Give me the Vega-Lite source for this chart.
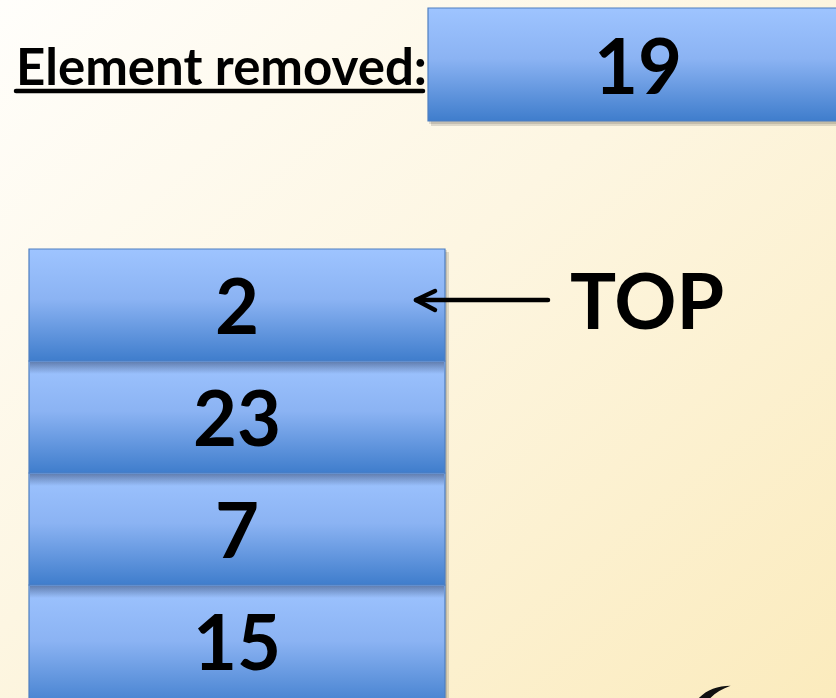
{
  "$schema": "https://vega.github.io/schema/vega-lite/v6.json",
  "width": 836,
  "height": 698,
  "autosize": {"type": "none"},
  "padding": 0,
  "background": "#fdf8e6",
  "config": {"view": {"stroke": null}},
  "layer": [
    {
      "data": {"values": [{"x": 0, "x2": 836, "y": 0, "y2": 698}]},
      "mark": {"type": "rect", "fill": {"gradient": "linear", "x1": 0, "y1": 0, "x2": 1, "y2": 1, "stops": [{"offset": 0, "color": "#fffefb"}, {"offset": 0.45, "color": "#fdf6e2"}, {"offset": 1, "color": "#fbebbd"}]}},
      "encoding": {
        "x": {"field": "x", "type": "quantitative", "scale": {"domain": [0, 836], "nice": false, "zero": false}, "axis": null},
        "x2": {"field": "x2"},
        "y": {"field": "y", "type": "quantitative", "scale": {"domain": [0, 698], "nice": false, "zero": false, "reverse": true}, "axis": null},
        "y2": {"field": "y2"}
      }
    },
    {
      "data": {"values": [
        {"x": 431, "x2": 850, "y": 12, "y2": 126},
        {"x": 32, "x2": 449, "y": 252, "y2": 700}
      ]},
      "mark": {"type": "rect", "fill": "#000000", "opacity": 0.12, "clip": true},
      "encoding": {
        "x": {"field": "x", "type": "quantitative", "scale": {"domain": [0, 836], "nice": false, "zero": false}, "axis": null},
        "x2": {"field": "x2"},
        "y": {"field": "y", "type": "quantitative", "scale": {"domain": [0, 698], "nice": false, "zero": false, "reverse": true}, "axis": null},
        "y2": {"field": "y2"}
      }
    },
    {
      "data": {"values": [
        {"x": 429, "x2": 848, "y": 10, "y2": 124},
        {"x": 30, "x2": 447, "y": 250, "y2": 700}
      ]},
      "mark": {"type": "rect", "fill": "#000000", "opacity": 0.12, "clip": true},
      "encoding": {
        "x": {"field": "x", "type": "quantitative", "scale": {"domain": [0, 836], "nice": false, "zero": false}, "axis": null},
        "x2": {"field": "x2"},
        "y": {"field": "y", "type": "quantitative", "scale": {"domain": [0, 698], "nice": false, "zero": false, "reverse": true}, "axis": null},
        "y2": {"field": "y2"}
      }
    },
    {
      "data": {"values": [
        {"item": "removed", "x": 428, "x2": 848, "y": 8, "y2": 121},
        {"item": "15", "x": 29, "x2": 445, "y": 585, "y2": 710},
        {"item": "7", "x": 29, "x2": 445, "y": 473, "y2": 585},
        {"item": "23", "x": 29, "x2": 445, "y": 361, "y2": 473},
        {"item": "2", "x": 29, "x2": 445, "y": 249, "y2": 361}
      ]},
      "mark": {"type": "rect", "clip": true, "stroke": "#4f7fc0", "strokeWidth": 1.2, "fill": {"gradient": "linear", "x1": 0, "y1": 0, "x2": 0, "y2": 1, "stops": [{"offset": 0, "color": "#9ec4ff"}, {"offset": 0.45, "color": "#8bb3f3"}, {"offset": 1, "color": "#3f7dcc"}]}},
      "encoding": {
        "x": {"field": "x", "type": "quantitative", "scale": {"domain": [0, 836], "nice": false, "zero": false}, "axis": null},
        "x2": {"field": "x2"},
        "y": {"field": "y", "type": "quantitative", "scale": {"domain": [0, 698], "nice": false, "zero": false, "reverse": true}, "axis": null},
        "y2": {"field": "y2"}
      }
    },
    {
      "data": {"values": [
        {"x": 30, "x2": 444, "y": 362, "y2": 374},
        {"x": 30, "x2": 444, "y": 474, "y2": 486},
        {"x": 30, "x2": 444, "y": 586, "y2": 598}
      ]},
      "mark": {"type": "rect", "fill": {"gradient": "linear", "x1": 0, "y1": 0, "x2": 0, "y2": 1, "stops": [{"offset": 0, "color": "rgba(40,60,100,0.5)"}, {"offset": 1, "color": "rgba(40,60,100,0)"}]}},
      "encoding": {
        "x": {"field": "x", "type": "quantitative", "scale": {"domain": [0, 836], "nice": false, "zero": false}, "axis": null},
        "x2": {"field": "x2"},
        "y": {"field": "y", "type": "quantitative", "scale": {"domain": [0, 698], "nice": false, "zero": false, "reverse": true}, "axis": null},
        "y2": {"field": "y2"}
      }
    },
    {
      "data": {"values": [
        {"label": "19", "x": 638, "y": 94},
        {"label": "2", "x": 237, "y": 334},
        {"label": "23", "x": 237, "y": 446},
        {"label": "7", "x": 237, "y": 558},
        {"label": "15", "x": 237, "y": 670}
      ]},
      "mark": {"type": "text", "font": "Lato", "fontWeight": "bold", "fontSize": 76, "align": "center", "baseline": "alphabetic", "color": "#000000"},
      "encoding": {
        "x": {"field": "x", "type": "quantitative", "scale": {"domain": [0, 836], "nice": false, "zero": false}, "axis": null},
        "y": {"field": "y", "type": "quantitative", "scale": {"domain": [0, 698], "nice": false, "zero": false, "reverse": true}, "axis": null},
        "text": {"field": "label"}
      }
    },
    {
      "data": {"values": [{"label": "TOP", "x": 570, "y": 329}]},
      "mark": {"type": "text", "font": "Lato", "fontWeight": "bold", "fontSize": 77, "align": "left", "baseline": "alphabetic", "color": "#000000"},
      "encoding": {
        "x": {"field": "x", "type": "quantitative", "scale": {"domain": [0, 836], "nice": false, "zero": false}, "axis": null},
        "y": {"field": "y", "type": "quantitative", "scale": {"domain": [0, 698], "nice": false, "zero": false, "reverse": true}, "axis": null},
        "text": {"field": "label"}
      }
    },
    {
      "data": {"values": [{"label": "Element removed:", "x": 16, "y": 85}]},
      "mark": {"type": "text", "font": "Lato", "fontWeight": "bold", "fontSize": 51, "align": "left", "baseline": "alphabetic", "color": "#000000"},
      "encoding": {
        "x": {"field": "x", "type": "quantitative", "scale": {"domain": [0, 836], "nice": false, "zero": false}, "axis": null},
        "y": {"field": "y", "type": "quantitative", "scale": {"domain": [0, 698], "nice": false, "zero": false, "reverse": true}, "axis": null},
        "text": {"field": "label"}
      }
    },
    {
      "data": {"values": [
        {"part": "underline", "x": 16, "x2": 423, "y": 91, "y2": 91},
        {"part": "shaft", "x": 417, "x2": 548, "y": 300, "y2": 300},
        {"part": "head-up", "x": 416, "x2": 435, "y": 300, "y2": 291},
        {"part": "head-down", "x": 416, "x2": 435, "y": 300, "y2": 310}
      ]},
      "mark": {"type": "rule", "color": "#000000", "strokeWidth": 4.5, "strokeCap": "round"},
      "encoding": {
        "x": {"field": "x", "type": "quantitative", "scale": {"domain": [0, 836], "nice": false, "zero": false}, "axis": null},
        "x2": {"field": "x2"},
        "y": {"field": "y", "type": "quantitative", "scale": {"domain": [0, 698], "nice": false, "zero": false, "reverse": true}, "axis": null},
        "y2": {"field": "y2"}
      }
    },
    {
      "data": {"values": [{"x": 710, "y": 698}]},
      "mark": {"type": "point", "shape": "M-1,0.7 C-0.6,-0.2 0.1,-0.6 1,-0.6 C0.3,-0.35 -0.2,0.05 -0.35,0.7 Z", "size": 1700, "filled": true, "color": "#111111", "opacity": 1},
      "encoding": {
        "x": {"field": "x", "type": "quantitative", "scale": {"domain": [0, 836], "nice": false, "zero": false}, "axis": null},
        "y": {"field": "y", "type": "quantitative", "scale": {"domain": [0, 698], "nice": false, "zero": false, "reverse": true}, "axis": null}
      }
    }
  ]
}
